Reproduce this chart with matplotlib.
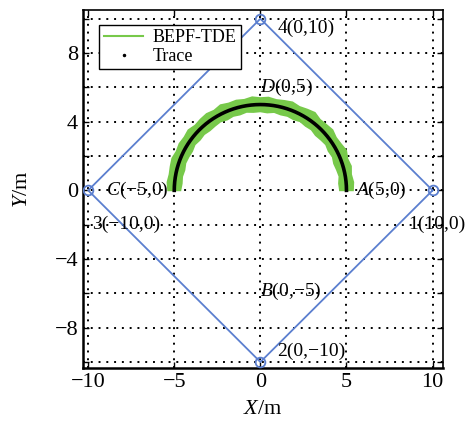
import numpy as np
import matplotlib
matplotlib.use('Agg')
import matplotlib.pyplot as plt

plt.rcParams['font.family'] = ['Liberation Serif', 'DejaVu Serif']
plt.rcParams['mathtext.fontset'] = 'custom'
plt.rcParams['mathtext.rm'] = 'Liberation Serif'
plt.rcParams['mathtext.it'] = 'Liberation Serif:italic'

# anchor nodes (square path)
node_x = [10, 0, -10, 0, 10]
node_y = [0, -10, 0, 10, 0]

# true trace: half circle, radius 5
trace_r = 5.0
# estimated band (BEPF-TDE), outer / inner radius read every 5 deg from 0 to 180
band_ang = np.arange(0, 181, 5)
band_outer = [5.38, 5.42, 5.35, 5.45, 5.38, 5.50, 5.40, 5.36, 5.47, 5.41, 5.38, 5.52, 5.44,
              5.37, 5.46, 5.40, 5.35, 5.43, 5.38, 5.45, 5.36, 5.42, 5.39, 5.48, 5.37, 5.44,
              5.40, 5.35, 5.46, 5.39, 5.43, 5.37, 5.45, 5.40, 5.36, 5.42, 5.36]
band_inner = [4.62, 4.58, 4.66, 4.60, 4.55, 4.63, 4.57, 4.65, 4.59, 4.54, 4.62, 4.58, 4.64,
              4.56, 4.61, 4.57, 4.63, 4.55, 4.60, 4.58, 4.64, 4.57, 4.61, 4.55, 4.63, 4.59,
              4.56, 4.62, 4.58, 4.65, 4.57, 4.60, 4.63, 4.56, 4.61, 4.58, 4.64]

# text labels: (x, y, text)
labels = [
    (1.0, 9.45, '4(0,10)'),
    (0.0, 6.0, r'$D$(0,5)'),
    (-8.95, 0.0, r'$C$(−5,0)'),
    (5.5, 0.0, r'$A$(5,0)'),
    (-9.8, -2.0, '3(−10,0)'),
    (8.6, -2.0, '1(10,0)'),
    (0.0, -5.9, r'$B$(0,−5)'),
    (1.0, -9.35, '2(0,−10)'),
]

fig = plt.figure(figsize=(4.65, 4.23), dpi=100)
ax = fig.add_axes([0.1785, 0.13, 0.774, 0.846])

blue = '#5b7fcf'
green = '#77c94a'

ax.plot(node_x, node_y, color=blue, lw=1.3, zorder=3)
ax.plot(node_x[:4], node_y[:4], 'o', color=blue, mfc='none', ms=7, mew=1.3, zorder=3)

th = np.deg2rad(band_ang)
ox = np.array(band_outer) * np.cos(th)
oy = np.array(band_outer) * np.sin(th)
ix = np.array(band_inner) * np.cos(th)
iy = np.array(band_inner) * np.sin(th)
px = np.concatenate([ox, ix[::-1]])
py = np.concatenate([oy, iy[::-1]])
ax.fill(px, py, color=green, lw=1.2, ec=green, zorder=4)
ax.plot([], [], color=green, lw=1.5, label='BEPF-TDE')

t = np.linspace(0, np.pi, 600)
ax.plot(trace_r * np.cos(t), trace_r * np.sin(t), color='black', lw=2.6, zorder=5)
ax.plot([], [], 'k.', ms=3, label='Trace')

for x, y, s in labels:
    ax.text(x, y, s, fontsize=14, va='center', ha='left', zorder=6)

ax.set_xlim(-10.3, 10.6)
ax.set_ylim(-10.35, 10.5)
ax.set_xticks([-10, -5, 0, 5, 10])
ax.set_xticklabels(['−10', '−5', '0', '5', '10'])
yt = np.arange(-10, 11, 2)
ax.set_yticks(yt)
ax.set_yticklabels([('−%d' % -v if v < 0 else '%d' % v) if v % 4 == 0 and abs(v) < 10 else '' for v in yt])
ax.tick_params(direction='in', top=True, right=True, labelsize=16, length=4, width=1)
ax.grid(True, color='black', linestyle=(0, (1, 3)), lw=1.4)

for s in ax.spines.values():
    s.set_linewidth(1.2)
ax.spines['left'].set_linewidth(1.8)
ax.spines['bottom'].set_linewidth(1.8)

ax.set_xlabel(r'$X$/m', fontsize=16, labelpad=6)
ax.set_ylabel(r'$Y$/m', fontsize=16, labelpad=16)

leg = ax.legend(loc='upper left', fontsize=13, frameon=True, fancybox=False,
                edgecolor='black', framealpha=1, handlelength=2.2, borderpad=0.25,
                labelspacing=0.1, handletextpad=0.5, bbox_to_anchor=(0.02, 0.985))
leg.get_frame().set_linewidth(1.0)

fig.savefig('out.png', dpi=100)
